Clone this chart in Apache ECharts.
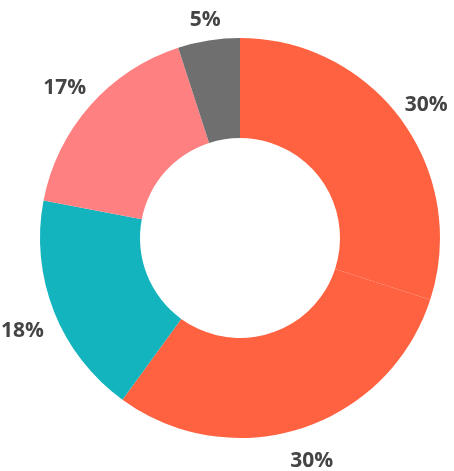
<!DOCTYPE html>
<html><head><meta charset="utf-8">
<script src="https://cdn.jsdelivr.net/npm/echarts@6/dist/echarts.min.js"></script>
<style>html,body{margin:0;padding:0;background:#fff}#c{width:454px;height:471px}</style>
</head><body><div id="c"></div>
<script>
const categories = ['A', 'B', 'C', 'D', 'E'];
const values = [30, 30, 18, 17, 5];
const colors = ['#FF6240', '#FF6240', '#13B4BE', '#FF8080', '#6F6F6F'];
const labelOffsets = [[-4, 5], [-1, 0], [1, 7], [1, 5], [2, 14]];

const data = categories.map((n, i) => ({ name: n, value: values[i], itemStyle: { color: colors[i] } }));
const chart = echarts.init(document.getElementById('c'));
chart.setOption({
  animation: false,
  series: [
    {
      type: 'pie', center: [240, 238], radius: [100, 200], startAngle: 90, clockwise: true,
      silent: true, label: { show: false }, labelLine: { show: false },
      itemStyle: { borderWidth: 0 }, data: data, z: 2
    },
    {
      type: 'pie', center: [240, 238], radius: [202, 262], startAngle: 90, clockwise: true,
      silent: true, z: 1,
      itemStyle: { color: 'rgba(0,0,0,0)' },
      label: {
        show: true, position: 'inside', formatter: '{c}%', overflow: 'none', minMargin: 0,
        color: '#444', fontFamily: 'Open Sans', fontWeight: 'bold', fontSize: 21
      },
      labelLine: { show: false },
      labelLayout: { hideOverlap: false },
      data: categories.map((n, i) => ({ name: n, value: values[i], label: { offset: labelOffsets[i] } }))
    }
  ]
});
</script></body></html>
